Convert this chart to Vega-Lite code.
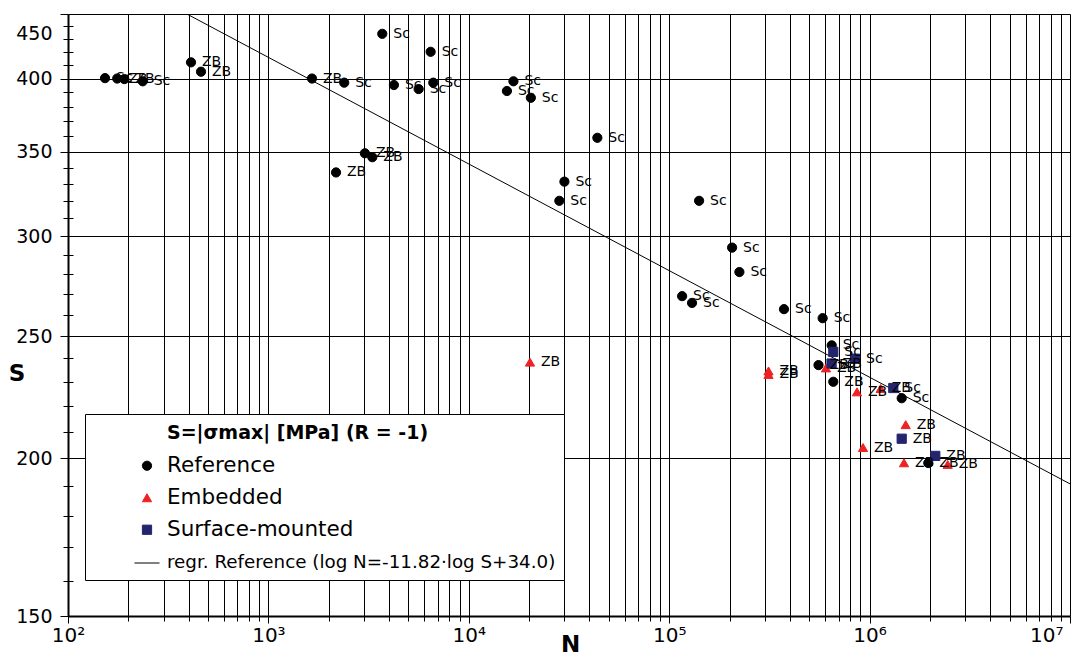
{
  "$schema": "https://vega.github.io/schema/vega-lite/v6.json",
  "width": 1002,
  "height": 602,
  "autosize": {"type": "none"},
  "padding": {"left": 68, "top": 14, "right": 1, "bottom": 44},
  "background": "white",
  "config": {
    "view": {"stroke": null},
    "font": "DejaVu Sans",
    "axis": {"domainColor": "black", "tickColor": "black", "labelColor": "black", "titleColor": "black", "gridColor": "black", "gridWidth": 1, "labelFont": "DejaVu Sans", "titleFont": "DejaVu Sans"},
    "axisX": {
      "labelFontSize": 20,
      "labelOverlap": false,
      "labelFlush": false,
      "labelBound": false,
      "labelPadding": 2,
      "grid": true,
      "domainWidth": 2
    }
  },
  "datasets": {
    "pts": [
      {"series": "Reference", "N": 153, "S": 400.3, "lab": "Sc"},
      {"series": "Reference", "N": 176, "S": 400, "lab": "ZB"},
      {"series": "Reference", "N": 191, "S": 399.6, "lab": "ZB"},
      {"series": "Reference", "N": 236, "S": 398, "lab": "Sc"},
      {"series": "Reference", "N": 411, "S": 412, "lab": "ZB"},
      {"series": "Reference", "N": 461, "S": 405, "lab": "ZB"},
      {"series": "Reference", "N": 3700, "S": 434, "lab": "Sc"},
      {"series": "Reference", "N": 6450, "S": 420, "lab": "Sc"},
      {"series": "Reference", "N": 1650, "S": 400, "lab": "ZB"},
      {"series": "Reference", "N": 2390, "S": 397, "lab": "Sc"},
      {"series": "Reference", "N": 4230, "S": 395.3, "lab": "Sc"},
      {"series": "Reference", "N": 5620, "S": 392.4, "lab": "Sc"},
      {"series": "Reference", "N": 6650, "S": 397, "lab": "Sc"},
      {"series": "Reference", "N": 16700, "S": 398, "lab": "Sc"},
      {"series": "Reference", "N": 15500, "S": 391, "lab": "Sc"},
      {"series": "Reference", "N": 20400, "S": 386.2, "lab": "Sc"},
      {"series": "Reference", "N": 43800, "S": 359, "lab": "Sc"},
      {"series": "Reference", "N": 3030, "S": 349, "lab": "ZB"},
      {"series": "Reference", "N": 3300, "S": 346.5, "lab": "ZB"},
      {"series": "Reference", "N": 2175, "S": 337, "lab": "ZB"},
      {"series": "Reference", "N": 30000, "S": 331.4, "lab": "Sc"},
      {"series": "Reference", "N": 28300, "S": 320, "lab": "Sc"},
      {"series": "Reference", "N": 141000, "S": 320, "lab": "Sc"},
      {"series": "Reference", "N": 206000, "S": 293.8, "lab": "Sc"},
      {"series": "Reference", "N": 224000, "S": 281, "lab": "Sc"},
      {"series": "Reference", "N": 116000, "S": 268.9, "lab": "Sc"},
      {"series": "Reference", "N": 130000, "S": 265.6, "lab": "Sc"},
      {"series": "Reference", "N": 374000, "S": 262.6, "lab": "Sc"},
      {"series": "Reference", "N": 583000, "S": 258.3, "lab": "Sc"},
      {"series": "Reference", "N": 647000, "S": 245.8, "lab": "Sc"},
      {"series": "Reference", "N": 556000, "S": 237.1, "lab": "ZB"},
      {"series": "Reference", "N": 659000, "S": 230, "lab": "ZB"},
      {"series": "Reference", "N": 1446000, "S": 223.2, "lab": "Sc"},
      {"series": "Reference", "N": 1963000, "S": 198.3, "lab": "ZB"},
      {"series": "Embedded", "N": 20200, "S": 238.4, "lab": "ZB"},
      {"series": "Embedded", "N": 313000, "S": 234.6, "lab": "ZB"},
      {"series": "Embedded", "N": 313000, "S": 233.1, "lab": "ZB"},
      {"series": "Embedded", "N": 606000, "S": 235.9, "lab": "ZB"},
      {"series": "Embedded", "N": 865000, "S": 225.8, "lab": "ZB"},
      {"series": "Embedded", "N": 1136000, "S": 227.2, "lab": "ZB"},
      {"series": "Embedded", "N": 1514000, "S": 212.7, "lab": "ZB"},
      {"series": "Embedded", "N": 927000, "S": 204, "lab": "ZB"},
      {"series": "Embedded", "N": 1485000, "S": 198.4, "lab": "ZB"},
      {"series": "Embedded", "N": 2453000, "S": 197.8, "lab": "ZB"},
      {"series": "Surface-mounted", "N": 659000, "S": 242.9, "lab": "Sc"},
      {"series": "Surface-mounted", "N": 846000, "S": 239.9, "lab": "Sc"},
      {"series": "Surface-mounted", "N": 646000, "S": 237.8, "lab": "ZB"},
      {"series": "Surface-mounted", "N": 1313000, "S": 227.4, "lab": "Sc"},
      {"series": "Surface-mounted", "N": 1446000, "S": 207.3, "lab": "ZB"},
      {"series": "Surface-mounted", "N": 2127000, "S": 200.9, "lab": "ZB"}
    ],
    "regr": [
      {"N": 392, "S": 450},
      {"N": 10000000, "S": 190.9}
    ]
  },
  "layer": [
    {
      "data": {"name": "regr"},
      "mark": {"type": "line", "color": "black", "strokeWidth": 1, "clip": true},
      "encoding": {
        "x": {"field": "N", "type": "quantitative",
          "scale": {"type": "log", "domain": [100, 10000000], "nice": false, "zero": false},
          "axis": {
            "orient": "bottom",
            "title": "N", "titleFontSize": 23, "titleFontWeight": "bold",
            "titleX": 502, "titleY": 28, "titleAlign": "center", "titleBaseline": "middle",
            "values": [100,200,300,400,500,600,700,800,900,1000,2000,3000,4000,5000,6000,7000,8000,9000,10000,20000,30000,40000,50000,60000,70000,80000,90000,100000,200000,300000,400000,500000,600000,700000,800000,900000,1000000,2000000,3000000,4000000,5000000,6000000,7000000,8000000,9000000,10000000],
            "labelExpr": "datum.value == 100 ? '10²' : datum.value == 1000 ? '10³' : datum.value == 10000 ? '10⁴' : datum.value == 100000 ? '10⁵' : datum.value == 1000000 ? '10⁶' : datum.value == 10000000 ? '10⁷' : ''",
            "labelAlign": {"condition": {"test": "datum.value == 10000000", "value": "right"}, "value": "center"},
            "labelOffset": {"condition": {"test": "datum.value == 10000000", "value": -7}, "value": 0},
            "tickSize": {"condition": {"test": "datum.value == 100 || datum.value == 1000 || datum.value == 10000 || datum.value == 100000 || datum.value == 1000000 || datum.value == 10000000", "value": 7}, "value": 5}
          }
        },
        "y": {"field": "S", "type": "quantitative",
          "scale": {"type": "log", "domain": [150, 450], "nice": false, "zero": false},
          "axis": {
            "orient": "left", "offset": -5, "title": null,
            "values": [160,170,180,190,210,220,230,240,260,270,280,290,310,320,330,340,360,370,380,390,410,420,430,440],
            "labels": false, "domain": false, "grid": false, "ticks": true, "tickSize": 5
          }
        }
      }
    },
    {
      "data": {"name": "pts"},
      "mark": {"type": "point", "filled": true, "opacity": 1, "strokeWidth": 1, "size": 85},
      "encoding": {
        "x": {"field": "N", "type": "quantitative",
          "scale": {"type": "log", "domain": [100, 10000000], "nice": false, "zero": false},
          "axis": {
            "orient": "bottom",
            "title": "N", "titleFontSize": 23, "titleFontWeight": "bold",
            "titleX": 502, "titleY": 28, "titleAlign": "center", "titleBaseline": "middle",
            "values": [100,200,300,400,500,600,700,800,900,1000,2000,3000,4000,5000,6000,7000,8000,9000,10000,20000,30000,40000,50000,60000,70000,80000,90000,100000,200000,300000,400000,500000,600000,700000,800000,900000,1000000,2000000,3000000,4000000,5000000,6000000,7000000,8000000,9000000,10000000],
            "labelExpr": "datum.value == 100 ? '10²' : datum.value == 1000 ? '10³' : datum.value == 10000 ? '10⁴' : datum.value == 100000 ? '10⁵' : datum.value == 1000000 ? '10⁶' : datum.value == 10000000 ? '10⁷' : ''",
            "labelAlign": {"condition": {"test": "datum.value == 10000000", "value": "right"}, "value": "center"},
            "labelOffset": {"condition": {"test": "datum.value == 10000000", "value": -7}, "value": 0},
            "tickSize": {"condition": {"test": "datum.value == 100 || datum.value == 1000 || datum.value == 10000 || datum.value == 100000 || datum.value == 1000000 || datum.value == 10000000", "value": 7}, "value": 5}
          }
        },
        "y": {"field": "S", "type": "quantitative",
          "scale": {"type": "log", "domain": [150, 450], "nice": false, "zero": false},
          "axis": {
            "orient": "left",
            "title": "S", "titleAngle": 0, "titleFontSize": 23, "titleFontWeight": "bold",
            "titleX": -51.5, "titleY": 359.5, "titleAlign": "center", "titleBaseline": "middle",
            "values": [150,160,170,180,190,200,210,220,230,240,250,260,270,280,290,300,310,320,330,340,350,360,370,380,390,400,410,420,430,440,450],
            "labelExpr": "datum.value % 50 == 0 ? datum.label : ''",
            "labelFontSize": 19,
            "labelOverlap": false, "labelFlush": false, "labelBound": false,
            "labelPadding": 8,
            "labelOffset": {"condition": {"test": "datum.value == 450", "value": 19}, "value": 0},
            "tickSize": {"condition": {"test": "datum.value % 50 == 0", "value": 8}, "value": 5},
            "grid": true,
            "gridOpacity": {"condition": {"test": "datum.value % 50 == 0", "value": 1}, "value": 0},
            "domainWidth": 2
          }
        },
        "color": {"field": "series", "type": "nominal",
          "scale": {"domain": ["S=|σmax| [MPa] (R = -1)", "Reference", "Embedded", "Surface-mounted", "regr. Reference (log N=-11.82·log S+34.0)"], "range": ["rgba(0,0,0,0)", "#000000", "#ee2222", "#24246e", "#000000"]},
          "legend": {
            "title": null,
            "orient": "none", "legendX": 17, "legendY": 400, "direction": "vertical",
            "padding": 8, "strokeColor": "black", "fillColor": "white", "cornerRadius": 0,
            "labelFont": "DejaVu Sans", "labelColor": "black", "labelLimit": 1000,
            "labelFontSize": {"expr": "indexof('' + (datum.value || datum), 'regr') == 0 ? 18.3 : indexof('' + (datum.value || datum), 'S=') == 0 ? 19 : 21.5"},
            "labelFontWeight": {"expr": "indexof('' + (datum.value || datum), 'S=') == 0 ? 'bold' : 'normal'"},
            "symbolSize": {"expr": "indexof('' + (datum.value || datum), 'regr') == 0 ? 625 : indexof('' + (datum.value || datum), 'S=') == 0 ? 400 : 85"},
            "symbolStrokeWidth": 1,
            "symbolOffset": 41, "labelOffset": 7, "rowPadding": 9
          }
        },
        "stroke": {"field": "series", "type": "nominal",
          "scale": {"domain": ["S=|σmax| [MPa] (R = -1)", "Reference", "Embedded", "Surface-mounted", "regr. Reference (log N=-11.82·log S+34.0)"], "range": ["rgba(0,0,0,0)", "#000000", "#ee2222", "#24246e", "#000000"]},
          "legend": {
            "title": null,
            "orient": "none", "legendX": 17, "legendY": 400, "direction": "vertical",
            "padding": 8, "strokeColor": "black", "fillColor": "white", "cornerRadius": 0,
            "labelFont": "DejaVu Sans", "labelColor": "black", "labelLimit": 1000,
            "labelFontSize": {"expr": "indexof('' + (datum.value || datum), 'regr') == 0 ? 18.3 : indexof('' + (datum.value || datum), 'S=') == 0 ? 19 : 21.5"},
            "labelFontWeight": {"expr": "indexof('' + (datum.value || datum), 'S=') == 0 ? 'bold' : 'normal'"},
            "symbolSize": {"expr": "indexof('' + (datum.value || datum), 'regr') == 0 ? 625 : indexof('' + (datum.value || datum), 'S=') == 0 ? 400 : 85"},
            "symbolStrokeWidth": 1,
            "symbolOffset": 41, "labelOffset": 7, "rowPadding": 9
          }
        },
        "shape": {"field": "series", "type": "nominal",
          "scale": {"domain": ["S=|σmax| [MPa] (R = -1)", "Reference", "Embedded", "Surface-mounted", "regr. Reference (log N=-11.82·log S+34.0)"], "range": ["circle", "circle", "triangle-up", "square", "stroke"]},
          "legend": {
            "title": null,
            "orient": "none", "legendX": 17, "legendY": 400, "direction": "vertical",
            "padding": 8, "strokeColor": "black", "fillColor": "white", "cornerRadius": 0,
            "labelFont": "DejaVu Sans", "labelColor": "black", "labelLimit": 1000,
            "labelFontSize": {"expr": "indexof('' + (datum.value || datum), 'regr') == 0 ? 18.3 : indexof('' + (datum.value || datum), 'S=') == 0 ? 19 : 21.5"},
            "labelFontWeight": {"expr": "indexof('' + (datum.value || datum), 'S=') == 0 ? 'bold' : 'normal'"},
            "symbolSize": {"expr": "indexof('' + (datum.value || datum), 'regr') == 0 ? 625 : indexof('' + (datum.value || datum), 'S=') == 0 ? 400 : 85"},
            "symbolStrokeWidth": 1,
            "symbolOffset": 41, "labelOffset": 7, "rowPadding": 9
          }
        }
      }
    },
    {
      "data": {"name": "pts"},
      "mark": {"type": "text", "dx": 11, "align": "left", "baseline": "middle", "fontSize": 14, "color": "black", "font": "DejaVu Sans"},
      "encoding": {
        "x": {"field": "N", "type": "quantitative",
          "scale": {"type": "log", "domain": [100, 10000000], "nice": false, "zero": false},
          "axis": {
            "orient": "bottom",
            "title": "N", "titleFontSize": 23, "titleFontWeight": "bold",
            "titleX": 502, "titleY": 28, "titleAlign": "center", "titleBaseline": "middle",
            "values": [100,200,300,400,500,600,700,800,900,1000,2000,3000,4000,5000,6000,7000,8000,9000,10000,20000,30000,40000,50000,60000,70000,80000,90000,100000,200000,300000,400000,500000,600000,700000,800000,900000,1000000,2000000,3000000,4000000,5000000,6000000,7000000,8000000,9000000,10000000],
            "labelExpr": "datum.value == 100 ? '10²' : datum.value == 1000 ? '10³' : datum.value == 10000 ? '10⁴' : datum.value == 100000 ? '10⁵' : datum.value == 1000000 ? '10⁶' : datum.value == 10000000 ? '10⁷' : ''",
            "labelAlign": {"condition": {"test": "datum.value == 10000000", "value": "right"}, "value": "center"},
            "labelOffset": {"condition": {"test": "datum.value == 10000000", "value": -7}, "value": 0},
            "tickSize": {"condition": {"test": "datum.value == 100 || datum.value == 1000 || datum.value == 10000 || datum.value == 100000 || datum.value == 1000000 || datum.value == 10000000", "value": 7}, "value": 5}
          }
        },
        "y": {"field": "S", "type": "quantitative",
          "scale": {"type": "log", "domain": [150, 450], "nice": false, "zero": false},
          "axis": null},
        "text": {"field": "lab", "type": "nominal"}
      }
    }
  ],
  "resolve": {"axis": {"y": "independent"}}
}
